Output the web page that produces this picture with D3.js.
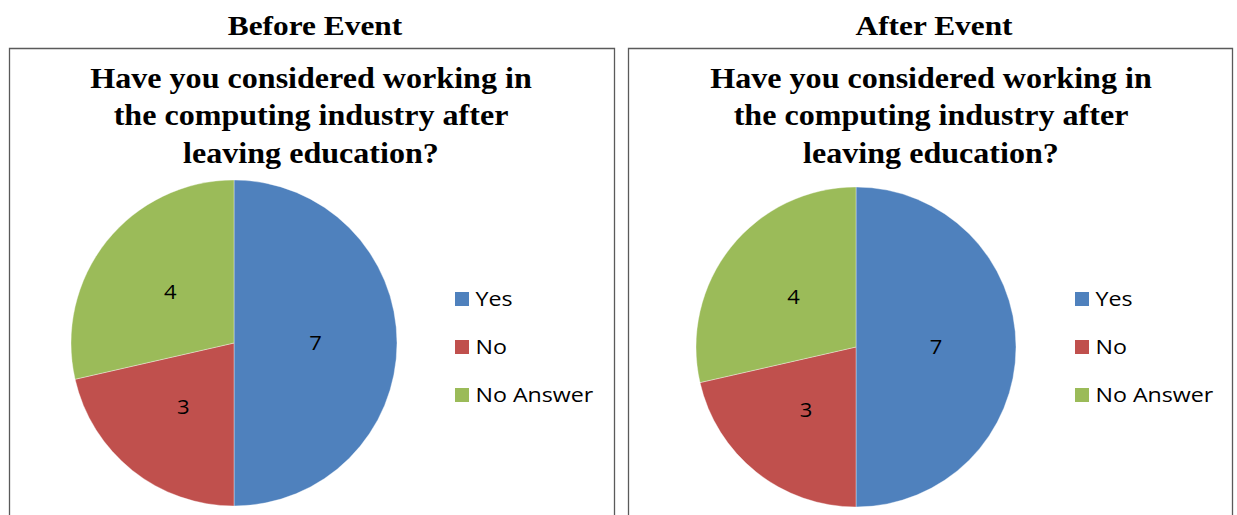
<!DOCTYPE html>
<html>
<head>
<meta charset="utf-8">
<script src="https://cdn.jsdelivr.net/npm/d3@7"></script>
<style>
  html, body { margin: 0; padding: 0; background: #fff; }
  svg { display: block; }
</style>
</head>
<body>
<svg id="chart" width="1237" height="515"></svg>
<script>
// Survey answers, before and after the event
const categories = ["Yes", "No", "No Answer"];
const beforeValues = [7, 3, 4];
const afterValues = [7, 3, 4];
const panelHeadings = ["Before Event", "After Event"];
const questionLines = ["Have you considered working in", "the computing industry after", "leaving education?"];
const sliceColors = ["#4F81BD", "#C0504D", "#9BBB59"];

const svg = d3.select("#chart");
const color = d3.scaleOrdinal().domain(categories).range(sliceColors);

const serif = "'Liberation Serif', 'Times New Roman', serif";
const sans = "'Open Sans', Lato, sans-serif";

const panels = [
  { heading: panelHeadings[0], values: beforeValues, x0: 9.5, x1: 614.5, headX: 315, titleX: 311,
    cx: 234, cy: 343, r: 163, legendX: 455 },
  { heading: panelHeadings[1], values: afterValues, x0: 628.5, x1: 1232.5, headX: 934, titleX: 931,
    cx: 856, cy: 347, r: 160, legendX: 1075 }
];

const pie = d3.pie().sort(null).value(d => d.value);

panels.forEach(p => {
  const g = svg.append("g");

  // heading above the frame
  g.append("g")
    .attr("transform", `translate(${p.headX},35) scale(1.12,1)`)
    .append("text")
    .attr("text-anchor", "middle")
    .attr("font-family", serif)
    .attr("font-weight", "bold")
    .attr("font-size", 28)
    .attr("fill", "#000")
    .text(p.heading);

  // chart frame (open at the bottom, runs off the page)
  g.append("path")
    .attr("d", `M${p.x0},520 V48.5 H${p.x1} V520`)
    .attr("fill", "none")
    .attr("stroke", "#5a5a5a")
    .attr("stroke-width", 1.3);

  // chart title
  const t = g.append("g")
    .attr("transform", `translate(${p.titleX},0) scale(1.07,1)`)
    .append("text")
    .attr("text-anchor", "middle")
    .attr("font-family", serif)
    .attr("font-weight", "bold")
    .attr("font-size", 30)
    .attr("fill", "#000");
  questionLines.forEach((line, i) => {
    t.append("tspan").attr("x", 0).attr("y", 88 + i * 37.5).text(line);
  });

  const data = categories.map((c, i) => ({ category: c, value: p.values[i] }));
  const arcs = pie(data);
  const arc = d3.arc().innerRadius(0).outerRadius(p.r);
  const labelArc = d3.arc().innerRadius(p.r * 0.5).outerRadius(p.r * 0.5);

  const pieG = g.append("g").attr("transform", `translate(${p.cx},${p.cy})`);
  pieG.selectAll("path.slice")
    .data(arcs)
    .join("path")
    .attr("class", "slice")
    .attr("d", arc)
    .attr("fill", d => color(d.data.category))
    .attr("stroke", "#fff")
    .attr("stroke-width", 0.6)
    .attr("stroke-opacity", 0.6);

  pieG.selectAll("text.value")
    .data(arcs)
    .join("text")
    .attr("class", "value")
    .attr("transform", d => `translate(${labelArc.centroid(d)}) scale(1.1,1)`)
    .attr("text-anchor", "middle")
    .attr("dy", "0.36em")
    .attr("font-family", sans)
    .attr("font-size", 20)
    .attr("fill", "#000")
    .text(d => d.data.value);

  // legend
  const legend = g.append("g").attr("transform", `translate(${p.legendX},299)`);
  const items = legend.selectAll("g")
    .data(categories)
    .join("g")
    .attr("transform", (d, i) => `translate(0,${i * 48})`);
  items.append("rect")
    .attr("x", 0).attr("y", -7)
    .attr("width", 14).attr("height", 14)
    .attr("fill", d => color(d));
  items.append("text")
    .attr("transform", "translate(20.5,0) scale(1.16,1)")
    .attr("dy", "0.36em")
    .attr("font-family", sans)
    .attr("font-size", 20)
    .attr("fill", "#000")
    .text(d => d);
});
</script>
</body>
</html>
